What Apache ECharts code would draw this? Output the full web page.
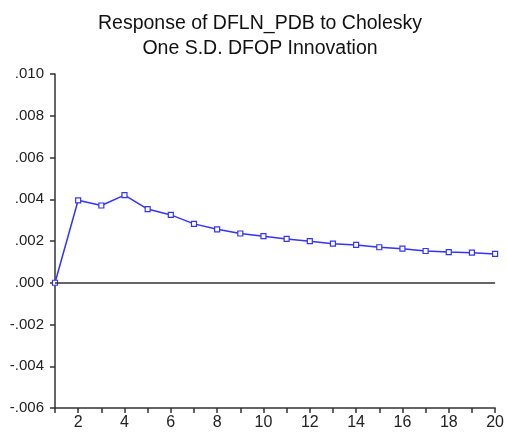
<!DOCTYPE html>
<html>
<head>
<meta charset="utf-8">
<script src="https://cdn.jsdelivr.net/npm/echarts@6/dist/echarts.min.js"></script>
<style>html,body{margin:0;padding:0;background:#fff;}#c{width:507px;height:432px;}</style>
</head>
<body>
<div id="c"></div>
<script>
var titleLines = ['Response of DFLN_PDB to Cholesky', 'One S.D. DFOP Innovation'];
var periods = [1,2,3,4,5,6,7,8,9,10,11,12,13,14,15,16,17,18,19,20];
var response = [0.0000,0.00395,0.00370,0.00420,0.00353,0.00325,0.00282,0.00256,0.00236,0.00223,0.00210,0.00199,0.00187,0.00181,0.00170,0.00163,0.00152,0.00147,0.00144,0.00138];

var chart = echarts.init(document.getElementById('c'));
function fmtY(v){
  var s = Math.abs(v).toFixed(3).slice(1);
  return (v < -1e-9 ? '-' : '') + s;
}
chart.setOption({
  animation: false,
  title: {
    text: titleLines.join('\n'),
    left: 255, top: 6, textAlign: 'center',
    padding: 5,
    textStyle: { fontFamily: 'Liberation Sans', fontSize: 19.5, fontWeight: 'normal', color: '#111', lineHeight: 25 }
  },
  grid: { left: 55, right: 8, top: 74, bottom: 24 },
  xAxis: {
    type: 'value', min: 1, max: 20, interval: 1,
    axisLine: { onZero: false, lineStyle: { color: '#333', width: 1.5 } },
    axisTick: { show: true, length: 5, lineStyle: { color: '#333', width: 1.5 } },
    splitLine: { show: false },
    axisLabel: { color: '#222', fontFamily: 'Liberation Sans', fontSize: 16, margin: 7,
      formatter: function(v){ return v % 2 === 0 ? String(v) : ''; } }
  },
  yAxis: {
    type: 'value', min: -0.006, max: 0.010, interval: 0.002,
    axisLine: { show: true, onZero: false, lineStyle: { color: '#333', width: 1.5 } },
    axisTick: { show: true, length: 5, lineStyle: { color: '#333', width: 1.5 } },
    splitLine: { show: false },
    axisLabel: { color: '#222', fontFamily: 'Liberation Sans', fontSize: 15, margin: 11, formatter: fmtY }
  },
  series: [{
    type: 'line',
    data: periods.map(function(p, i){ return [p, response[i]]; }),
    symbol: 'rect', symbolSize: 5, showAllSymbol: true,
    lineStyle: { color: '#3333ff', width: 1.5 },
    itemStyle: { color: '#ffffff', borderColor: '#3333ff', borderWidth: 1.2 },
    markLine: {
      silent: true, symbol: ['none','none'], label: { show: false },
      lineStyle: { color: '#333', width: 1.5, type: 'solid' },
      data: [{ yAxis: 0 }]
    },
    z: 3
  }]
});
</script>
</body>
</html>
